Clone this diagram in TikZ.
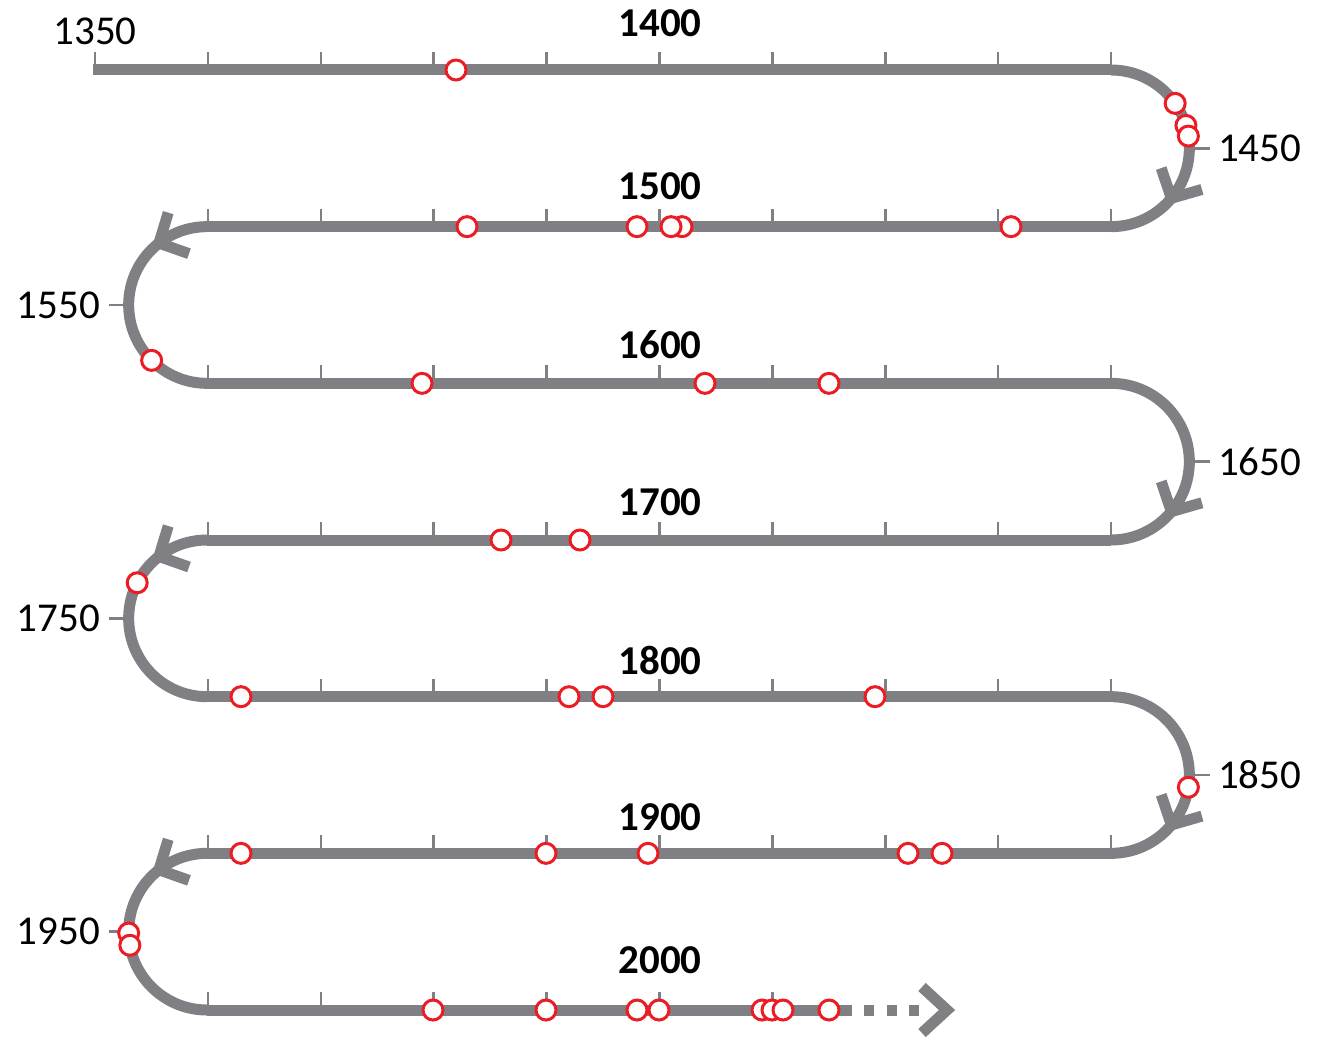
\documentclass[tikz,border=0pt]{standalone}
\usepackage{fontspec}
\setmainfont{Carlito}
\usepackage{xcolor}
\definecolor{railgray}{RGB}{128,128,132}
\definecolor{eventred}{RGB}{236,28,36}
\usetikzlibrary{calc,decorations.markings}

\begin{document}
\begin{tikzpicture}[
  x=1pt, y=1pt,
  font=\fontsize{41}{41}\selectfont,
  rail/.style={draw=railgray, line width=11pt},
  tick/.style={draw=railgray, line width=2.5pt},
  chev/.style={draw=railgray, line width=11pt, line join=miter},
  event/.style={circle, draw=eventred, line width=3pt, fill=white,
                minimum size=20pt, inner sep=0pt},
  year/.style={inner sep=0pt},
  century/.style={inner sep=0pt, font=\fontsize{41}{41}\selectfont\bfseries},
  turnR/.style={postaction={decorate, decoration={markings,
      mark=at position 0.72 with {\draw[chev, rotate=12] (-22,23) -- (0,0) -- (-22,-23);}}}},
  turnL/.style={postaction={decorate, decoration={markings,
      mark=at position 0.21 with {\draw[chev, rotate=-11] (-22,23) -- (0,0) -- (-22,-23);}}}}
]
\useasboundingbox (0,0) rectangle (1323,1037);

% row ends
\foreach \k in {0,...,6} {
  \coordinate (W\k) at (207, {967-156.67*\k});
  \coordinate (E\k) at (1111, {967-156.67*\k});
}
\coordinate (start) at (93, 967);
\coordinate (now) at (852, {967-156.67*6});
\coordinate (tip) at (947, {967-156.67*6});

% decade ticks
\foreach \k/\a/\b in {0/0/9, 1/1/9, 2/1/9, 3/1/9, 4/1/9, 5/1/9, 6/1/6}
  \foreach \i in {\a,...,\b}
    \draw[tick] ({95+112.9*\i}, {967-156.67*\k}) -- ++(0,18);

% half-century ticks and labels on the turns
\foreach \lab/\k in {1450/0, 1650/2, 1850/4} {
  \draw[tick] (1189, {967-156.67*\k-78.33}) -- ++(21,0);
  \node[year, anchor=west] (y\lab) at (1218, {967-156.67*\k-78.33}) {\lab};
}
\foreach \lab/\k in {1550/1, 1750/3, 1950/5} {
  \draw[tick] (129, {967-156.67*\k-78.33}) -- ++(-20,0);
  \node[year, anchor=east] (y\lab) at (100, {967-156.67*\k-78.33}) {\lab};
}

% the rail
\draw[rail] (start) -- (E0) (E1) -- (W1) (W2) -- (E2) (E3) -- (W3)
  (W4) -- (E4) (E5) -- (W5) (W6) -- (now);
\foreach \k in {0,2,4}
  \draw[rail, turnR] (E\k) arc[start angle=90, end angle=-90, radius=78.33];
\foreach \k in {1,3,5}
  \draw[rail, turnL] (W\k) arc[start angle=90, end angle=270, radius=78.33];
\draw[rail, dash pattern=on 10pt off 12.5pt] (864, {967-156.67*6}) -- (919, {967-156.67*6});
\draw[chev] (tip) ++(-25,23) -- (tip) -- ++(-25,-23);

% labels
\node[year] (y1350) at (95, 1005.5) {1350};
\foreach \c/\yy in {1400/23.5, 1500/186.7, 1600/345, 1700/502, 1800/660, 1900/817, 2000/960}
  \node[century] (c\c) at (660, {1037-\yy}) {\c};

% events on the straight rows
\foreach \k/\xs in {0/{456}, 1/{1011,682,671,637,467}, 2/{422,705,829}, 3/{580,501},
    4/{241,569,603,875}, 5/{942,908,648,546,241}, 6/{433,546,637,659,762,772,783,829}}
  \foreach \x [count=\n] in \xs
    \node[event] (ev\k-\n) at (\x, {967-156.67*\k}) {};

% events on the turns
\foreach \k/\cx/\angs in {0/1111/{35,17,9}, 1/207/{225}, 3/207/{153}, 4/1111/{-9}, 5/207/{181,190}}
  \foreach \a [count=\n] in \angs
    \node[event] (tu\k-\n) at ($(\cx, {967-156.67*\k-78.33}) + (\a:78.33)$) {};
\end{tikzpicture}
\end{document}
